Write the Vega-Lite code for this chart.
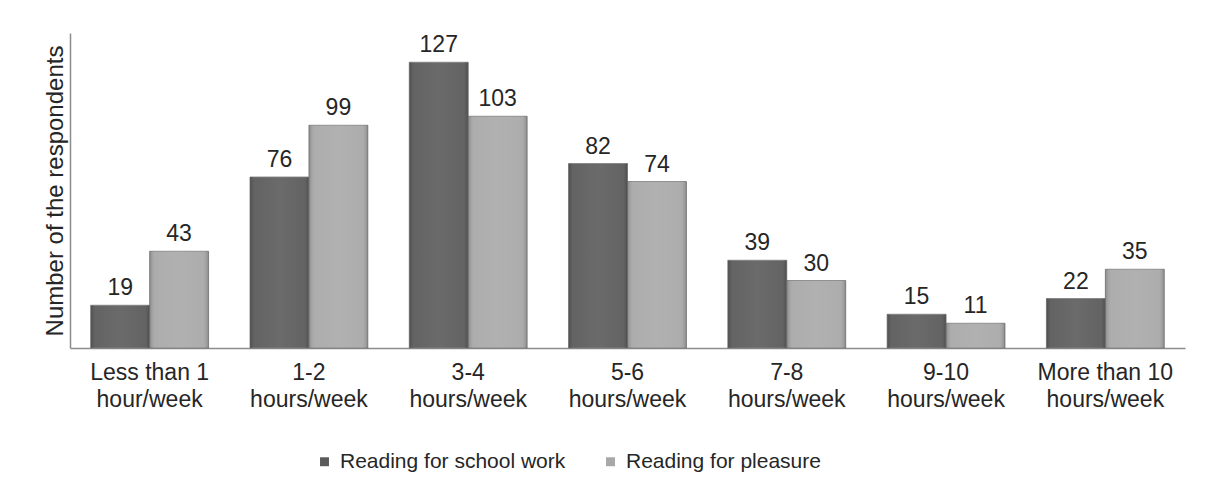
{
  "$schema": "https://vega.github.io/schema/vega-lite/v6.json",
  "width": 1115,
  "height": 315,
  "autosize": "none",
  "padding": {"left": 70, "top": 33, "right": 20, "bottom": 142},
  "background": "white",
  "config": {"view": {"stroke": null}, "font": "Liberation Sans"},
  "data": {
    "values": [
      {"hours": "Less than 1|hour/week", "series": "Reading for school work", "count": 19},
      {"hours": "Less than 1|hour/week", "series": "Reading for pleasure", "count": 43},
      {"hours": "1-2|hours/week", "series": "Reading for school work", "count": 76},
      {"hours": "1-2|hours/week", "series": "Reading for pleasure", "count": 99},
      {"hours": "3-4|hours/week", "series": "Reading for school work", "count": 127},
      {"hours": "3-4|hours/week", "series": "Reading for pleasure", "count": 103},
      {"hours": "5-6|hours/week", "series": "Reading for school work", "count": 82},
      {"hours": "5-6|hours/week", "series": "Reading for pleasure", "count": 74},
      {"hours": "7-8|hours/week", "series": "Reading for school work", "count": 39},
      {"hours": "7-8|hours/week", "series": "Reading for pleasure", "count": 30},
      {"hours": "9-10|hours/week", "series": "Reading for school work", "count": 15},
      {"hours": "9-10|hours/week", "series": "Reading for pleasure", "count": 11},
      {"hours": "More than 10|hours/week", "series": "Reading for school work", "count": 22},
      {"hours": "More than 10|hours/week", "series": "Reading for pleasure", "count": 35}
    ]
  },
  "encoding": {
    "x": {
      "field": "hours", "type": "nominal", "sort": null,
      "scale": {"paddingInner": 0.26, "paddingOuter": 0.13},
      "axis": {
        "title": null, "ticks": false, "labelAngle": 0,
        "domainColor": "#8c8c8c", "domainWidth": 1.5,
        "labelExpr": "split(datum.label, '|')",
        "labelFontSize": 23, "labelLineHeight": 27, "labelColor": "#262626",
        "labelPadding": 13
      }
    },
    "xOffset": {"field": "series", "type": "nominal", "sort": null, "scale": {"paddingInner": 0, "paddingOuter": 0}},
    "y": {
      "field": "count", "type": "quantitative",
      "scale": {"domain": [0, 140], "nice": false},
      "axis": {
        "title": "Number  of the respondents", "titleFontSize": 24, "titleFontWeight": "normal",
        "titleColor": "#262626", "titlePadding": 3,
        "labels": false, "ticks": false, "grid": false,
        "domainColor": "#8c8c8c", "domainWidth": 1.5
      }
    }
  },
  "layer": [
    {
      "mark": {"type": "bar", "stroke": "#7a7a7a", "strokeWidth": 0.8},
      "encoding": {
        "color": {
          "field": "series", "type": "nominal", "sort": null,
          "scale": {"domain": ["Reading for school work", "Reading for pleasure"], "range": ["#5a5a5a", "#a8a8a8"]},
          "legend": {
            "title": null, "orient": "none", "legendX": 244, "legendY": 418, "direction": "horizontal",
            "symbolType": "square", "symbolSize": 80, "symbolStrokeWidth": 0,
            "labelFontSize": 21, "labelColor": "#262626", "columnPadding": 34,
            "labelOffset": 5, "labelLimit": 0
          }
        }
      }
    },
    {
      "mark": {
        "type": "bar",
        "fill": {
          "gradient": "linear", "x1": 0, "y1": 0, "x2": 1, "y2": 0,
          "stops": [
            {"offset": 0, "color": "rgba(0,0,0,0.18)"},
            {"offset": 0.1, "color": "rgba(255,255,255,0.06)"},
            {"offset": 0.5, "color": "rgba(255,255,255,0.1)"},
            {"offset": 0.9, "color": "rgba(255,255,255,0.06)"},
            {"offset": 1, "color": "rgba(0,0,0,0.18)"}
          ]
        }
      }
    },
    {
      "mark": {"type": "text", "baseline": "bottom", "dy": -5, "fontSize": 23, "color": "#262626"},
      "encoding": {"text": {"field": "count", "type": "quantitative"}}
    }
  ]
}
